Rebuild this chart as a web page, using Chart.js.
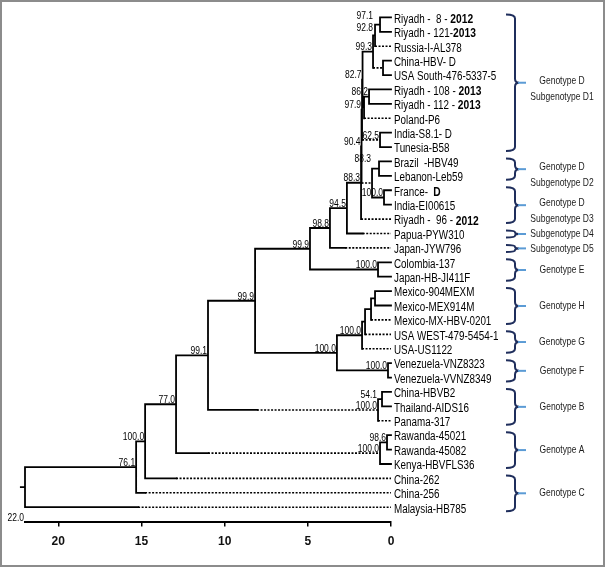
<!DOCTYPE html>
<html>
<head>
<meta charset="utf-8">
<script src="https://cdn.jsdelivr.net/npm/chart.js@4.4.1/dist/chart.umd.min.js"></script>
<style>
  html, body { margin: 0; padding: 0; background: #fff; }
  #wrap { width: 605px; height: 567px; }
</style>
</head>
<body>
<div id="wrap"><canvas id="tree" width="605" height="567"></canvas></div>
<script>
// Leaf taxa, top to bottom
const taxa = [
    'Riyadh -  8 - 2012', 'Riyadh - 121-2013', 'Russia-I-AL378', 'China-HBV- D',
    'USA South-476-5337-5', 'Riyadh - 108 - 2013', 'Riyadh - 112 - 2013', 'Poland-P6',
    'India-S8.1- D', 'Tunesia-B58', 'Brazil  -HBV49', 'Lebanon-Leb59', 'France-  D',
    'India-EI00615', 'Riyadh -  96 - 2012', 'Papua-PYW310', 'Japan-JYW796',
    'Colombia-137', 'Japan-HB-JI411F', 'Mexico-904MEXM', 'Mexico-MEX914M',
    'Mexico-MX-HBV-0201', 'USA WEST-479-5454-1', 'USA-US1122', 'Venezuela-VNZ8323',
    'Venezuela-VVNZ8349', 'China-HBVB2', 'Thailand-AIDS16', 'Panama-317',
    'Rawanda-45021', 'Rawanda-45082', 'Kenya-HBVFLS36', 'China-262', 'China-256',
    'Malaysia-HB785'
];

// Internal nodes (children listed before parents). Children: leaf index or node id.
const nodeIds = ['n1','n2','n3','n4','n5','n6','n7','n8','n9','n10','n11','n12','n13','n14','n15','n16','n17',
    'n18','n19','n20','n21','n22','n23','n24','n25','n26','n27','n28','n29','n30','n31','n32','n33','root'];
const nodeKids = [
    [0, 1], ['n1', 2], [3, 4], ['n2', 'n3'], [5, 6], ['n5', 7], ['n4', 'n6'], [8, 9], ['n7', 'n8'],
    [10, 11], [12, 13], ['n10', 'n11'], ['n9', 'n12'], ['n13', 14], ['n14', 15], ['n15', 16],
    [17, 18], ['n16', 'n17'], [19, 20], ['n19', 21], ['n20', 22], ['n21', 23], [24, 25],
    ['n22', 'n23'], ['n18', 'n24'], [26, 27], ['n26', 28], ['n25', 'n27'], [29, 30], ['n29', 31],
    ['n28', 'n30'], ['n31', 32], ['n32', 33], ['n33', 34]
];
const nodeAges = [0.66, 0.96, 0.48, 1.08, 1.32, 1.62, 1.71, 0.66, 1.74, 0.72, 0.42, 1.14, 1.77, 1.80,
    2.65, 3.67, 0.78, 4.87, 0.96, 1.20, 1.56, 1.74, 0.18, 3.25, 8.17, 0.54, 0.78, 11.0, 0.24, 0.66,
    12.92, 14.78, 15.32, 22.0];
const support = [97.1, 92.8, null, 99.3, 86.2, null, 82.7, 62.5, 97.9, null, 100.0, 88.3, 90.4, 88.3,
    94.5, 98.8, 100.0, 99.9, null, null, null, 100.0, 100.0, 100.0, 99.9, 54.1, 100.0, 99.1, 98.6, 100.0,
    77.0, 100.0, 76.1, null];

// Axis ticks
const xTicks = [0, 5, 10, 15, 20];

// Genotype brackets on the right
const groupNames = [['Genotype D', 'Subgenotype D1'], ['Genotype D', 'Subgenotype D2'],
    ['Genotype D', 'Subgenotype D3'], ['Subgenotype D4'], ['Subgenotype D5'], ['Genotype E'],
    ['Genotype H'], ['Genotype G'], ['Genotype F'], ['Genotype B'], ['Genotype A'], ['Genotype C']];
const groupFirst = [0, 10, 12, 15, 16, 17, 19, 22, 24, 26, 29, 32];
const groupLast = [9, 11, 14, 15, 16, 18, 21, 23, 25, 28, 31, 34];

// Branch styling: where the dotted part of a branch starts ('all' = whole branch dotted)
const dottedFrom = {
    34: 15.2, 33: 14.78, 32: 12.92, n30: 11.0, n27: 8.05, 16: 2.75, 15: 1.70,
    14: 'all', 2: 'all', n3: 'all', 7: 'all', n8: 'all', n12: 'all', 28: 'all',
    21: 'all', 22: 'all', 23: 'all'
};
// support labels that were pushed aside to avoid overlap [dx, dy] px
const labelNudge = { n1: [-6, -4], n2: [-1, -3], n12: [0, -20], n26: [-4, 0] };

const SANS = '"Liberation Sans", Arial, sans-serif';

// Node positions: leaves on rows, internal nodes centred on their children
const nodeY = {}, nodeAge = {};
taxa.forEach((t, i) => { nodeY[i] = i; nodeAge[i] = 0; });
nodeIds.forEach((id, k) => {
    const kids = nodeKids[k];
    nodeAge[id] = nodeAges[k];
    nodeY[id] = kids.reduce((s, c) => s + nodeY[c], 0) / kids.length;
});

const solid = [], dotted = [];
const gap = { x: null, y: null };
nodeIds.forEach((id, k) => {
    const a = nodeAges[k], kids = nodeKids[k];
    solid.push({ x: a, y: nodeY[kids[0]] }, { x: a, y: nodeY[kids[kids.length - 1]] }, gap);
    kids.forEach(c => {
        const yy = nodeY[c], end = nodeAge[c];
        let d = end;
        if (c in dottedFrom) d = dottedFrom[c] === 'all' ? a : dottedFrom[c];
        if (d < a) solid.push({ x: a, y: yy }, { x: d, y: yy }, gap);
        if (d > end) dotted.push({ x: d, y: yy }, { x: end, y: yy }, gap);
    });
});
// small stub at the root
solid.push({ x: 22.25, y: nodeY.root }, { x: 22, y: nodeY.root }, gap);

function splitBold(name) {
    const m = name.match(/^(Riyadh.*-\s*)(20\d\d)$/) || name.match(/^(France-\s*)(D)$/);
    return m ? [m[1], m[2]] : [name, ''];
}

// condensed text: the figure uses a narrow face, so squeeze a regular one
function narrowText(ctx, text, x, y, sx) {
    ctx.save();
    ctx.translate(x, y);
    ctx.scale(sx, 1);
    ctx.fillText(text, 0, 0);
    ctx.restore();
    return ctx.measureText(text).width * sx;
}

const treeText = {
    id: 'treeText',
    afterDatasetsDraw(chart) {
        const { ctx, chartArea } = chart;
        const x = chart.scales.x, y = chart.scales.y;
        ctx.save();

        // taxa
        const tipX = x.getPixelForValue(0) + 3;
        ctx.fillStyle = '#000';
        ctx.textBaseline = 'middle';
        ctx.textAlign = 'left';
        taxa.forEach((name, i) => {
            const py = y.getPixelForValue(i) + 2;
            const [plain, bold] = splitBold(name);
            ctx.font = '12px ' + SANS;
            const w = narrowText(ctx, plain, tipX, py, 0.82);
            if (bold) {
                ctx.font = 'bold 12.5px ' + SANS;
                narrowText(ctx, bold, tipX + w, py, 0.82);
            }
        });

        // bootstrap values
        ctx.font = '10px ' + SANS;
        ctx.textAlign = 'right';
        ctx.textBaseline = 'bottom';
        nodeIds.forEach((id, k) => {
            if (support[k] == null) return;
            const n = labelNudge[id] || [0, 0];
            narrowText(ctx, support[k].toFixed(1),
                x.getPixelForValue(nodeAges[k]) - 1 + n[0],
                y.getPixelForValue(nodeY[id]) + 1 + n[1], 0.85);
        });

        // axis end value
        ctx.textBaseline = 'middle';
        narrowText(ctx, '22.0', chartArea.left - 1, chartArea.bottom - 3, 0.85);

        // brackets
        const bx = tipX + 112, sx = bx + 9;
        groupFirst.forEach((f, g) => {
            const y1 = y.getPixelForValue(f) - 3;
            const y2 = y.getPixelForValue(groupLast[g]) + 4;
            const ym = (y1 + y2) / 2;
            const r = Math.min(4, (y2 - y1) / 4);
            ctx.strokeStyle = '#1f2e5c';
            ctx.lineWidth = 2;
            ctx.beginPath();
            ctx.moveTo(bx, y1);
            ctx.quadraticCurveTo(sx, y1, sx, y1 + r);
            ctx.lineTo(sx, ym - r);
            ctx.quadraticCurveTo(sx, ym, sx + 4, ym);
            ctx.quadraticCurveTo(sx, ym, sx, ym + r);
            ctx.lineTo(sx, y2 - r);
            ctx.quadraticCurveTo(sx, y2, bx, y2);
            ctx.stroke();
            ctx.strokeStyle = '#5b9bd5';
            ctx.beginPath();
            ctx.moveTo(sx + 3, ym);
            ctx.lineTo(sx + 11, ym);
            ctx.stroke();

            const lines = groupNames[g];
            ctx.fillStyle = '#1a1a1a';
            ctx.font = '11.5px ' + SANS;
            ctx.textAlign = 'center';
            ctx.textBaseline = 'middle';
            if (lines.length === 1) narrowText(ctx, lines[0], 562, ym, 0.74);
            else lines.forEach((t, j) => narrowText(ctx, t, 562, ym - 2 + j * 16, 0.74));
        });

        // frame
        ctx.strokeStyle = '#8c8c8c';
        ctx.lineWidth = 2;
        ctx.strokeRect(1, 1, 603, 565);
        ctx.restore();
    }
};

new Chart(document.getElementById('tree'), {
    type: 'scatter',
    data: {
        datasets: [{
            data: solid,
            showLine: true,
            borderColor: '#000',
            borderWidth: 1.8,
            borderCapStyle: 'square',
            pointRadius: 0,
            spanGaps: false,
            clip: false
        }, {
            data: dotted,
            showLine: true,
            borderColor: '#000',
            borderWidth: 1.6,
            borderDash: [2, 1.5],
            pointRadius: 0,
            spanGaps: false
        }]
    },
    options: {
        responsive: false,
        devicePixelRatio: 1,
        animation: false,
        events: [],
        layout: { padding: { left: 25, right: 214, top: 3, bottom: 10 } },
        plugins: { legend: { display: false }, tooltip: { enabled: false } },
        scales: {
            x: {
                type: 'linear',
                reverse: true,
                min: 0,
                max: 22,
                afterBuildTicks: s => { s.ticks = xTicks.map(v => ({ value: v })); },
                grid: { drawOnChartArea: false, drawTicks: true, tickLength: 5, color: '#000', lineWidth: 1.5 },
                border: { display: true, color: '#000', width: 2 },
                ticks: {
                    padding: 8,
                    color: '#111',
                    font: { family: SANS, size: 12, weight: 'bold' }
                }
            },
            y: {
                type: 'linear',
                reverse: true,
                min: -1,
                max: 35,
                display: false
            }
        }
    },
    plugins: [treeText]
});
</script>
</body>
</html>
